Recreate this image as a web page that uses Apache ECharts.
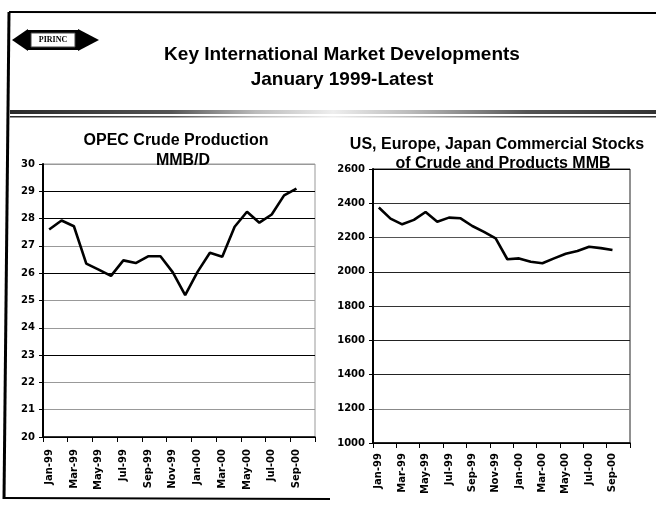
<!DOCTYPE html>
<html><head><meta charset="utf-8">
<script src="https://cdn.jsdelivr.net/npm/echarts@6/dist/echarts.min.js"></script>
<style>html,body{margin:0;padding:0;background:#fff}#c{width:656px;height:506px}</style>
</head><body><div id="c"></div>
<script>
// ---- data ----
const categories = ['Jan-99','Feb-99','Mar-99','Apr-99','May-99','Jun-99','Jul-99','Aug-99','Sep-99','Oct-99','Nov-99','Dec-99',
                    'Jan-00','Feb-00','Mar-00','Apr-00','May-00','Jun-00','Jul-00','Aug-00','Sep-00','Oct-00'];
const opecProduction = [27.6, 27.93, 27.72, 26.35, 26.13, 25.9, 26.47, 26.37, 26.62, 26.62, 26.03, 25.2,
                        26.05, 26.75, 26.6, 27.7, 28.25, 27.85, 28.15, 28.85, 29.1, null];
const commercialStocks = [2375, 2310, 2277, 2303, 2349, 2292, 2316, 2312, 2267, 2233, 2195, 2073,
                          2078, 2058, 2050, 2078, 2105, 2121, 2146, 2138, 2127, null];
const opecAxis = {min: 20, max: 30, interval: 1};
const stocksAxis = {min: 1000, max: 2600, interval: 200};
const mainTitle = ['Key International Market Developments', 'January 1999-Latest'];
const leftTitle = ['OPEC Crude Production', 'MMB/D'];
const rightTitle = ['US, Europe, Japan Commercial Stocks', 'of Crude and Products MMB'];
const logoText = 'PIRINC';

// ---- chart ----
const chart = echarts.init(document.getElementById('c'), null, {renderer: 'canvas'});
const tickFont = {fontFamily: 'DejaVu Sans', fontWeight: 'bold', fontSize: 10, color: '#000'};

function xAxisCfg(gridIndex, margin) {
  return {
    type: 'category', gridIndex, data: categories, boundaryGap: true,
    axisLine: {lineStyle: {color: '#000', width: 1.5}},
    axisTick: {show: true, interval: 1, length: 5, lineStyle: {color: '#000', width: 1}},
    axisLabel: Object.assign({interval: 1, rotate: 90, margin}, tickFont),
    splitLine: {show: false}
  };
}
function yAxisCfg(gridIndex, ax, colors) {
  return {
    type: 'value', gridIndex, min: ax.min, max: ax.max, interval: ax.interval,
    axisLine: {show: true, lineStyle: {color: '#000', width: 2}},
    axisTick: {show: true, length: 4, lineStyle: {color: '#000'}},
    axisLabel: Object.assign({margin: 8, formatter: v => String(v)}, tickFont),
    splitLine: {show: true, lineStyle: {color: colors, width: 1}}
  };
}
const bandGrad = new echarts.graphic.LinearGradient(0, 0, 1, 0, [
  {offset: 0, color: '#2a2a2a'}, {offset: 0.25, color: '#555'}, {offset: 0.38, color: '#bbb'},
  {offset: 0.5, color: '#eee'}, {offset: 0.62, color: '#bbb'}, {offset: 0.8, color: '#555'}, {offset: 1, color: '#333'}]);

function txt(text, x, y, font) {
  return {type: 'text', z: 10, style: {text, x, y, font, fill: '#000', textAlign: 'center', textVerticalAlign: 'middle'}};
}

const option = {
  animation: false,
  backgroundColor: '#fff',
  grid: [
    {left: 43, top: 164, width: 272, height: 273, show: true, borderColor: '#999', borderWidth: 1},
    {left: 373, top: 169, width: 257, height: 274, show: true, borderColor: '#222', borderWidth: 1}
  ],
  xAxis: [xAxisCfg(0, 12), xAxisCfg(1, 10)],
  yAxis: [
    yAxisCfg(0, opecAxis, ['#000','#999','#999','#000','#999','#999','#000','#999','#000','#000','#999']),
    yAxisCfg(1, stocksAxis, ['#000','#888','#222','#222','#333','#222','#555','#333','#000'])
  ],
  series: [
    {type: 'line', xAxisIndex: 0, yAxisIndex: 0, data: opecProduction, showSymbol: false,
     lineStyle: {color: '#000', width: 2.6}, z: 5},
    {type: 'line', xAxisIndex: 1, yAxisIndex: 1, data: commercialStocks, showSymbol: false,
     lineStyle: {color: '#000', width: 2.6}, z: 5}
  ],
  graphic: [
    // frame
    {type: 'line', shape: {x1: 9, y1: 12, x2: 656, y2: 13}, style: {stroke: '#000', lineWidth: 2}},
    {type: 'line', shape: {x1: 9, y1: 12, x2: 4, y2: 499}, style: {stroke: '#000', lineWidth: 3}},
    {type: 'line', shape: {x1: 4, y1: 498, x2: 330, y2: 499}, style: {stroke: '#000', lineWidth: 2}},
    // hatched band
    {type: 'rect', shape: {x: 10, y: 110, width: 646, height: 4}, style: {fill: bandGrad}},
    {type: 'rect', shape: {x: 10, y: 116, width: 646, height: 1.5}, style: {fill: bandGrad}},
    // logo badge
    {type: 'polygon', shape: {points: [[12, 40], [28, 29], [28, 51]]}, style: {fill: '#000'}},
    {type: 'polygon', shape: {points: [[78, 29], [99, 40], [78, 51]]}, style: {fill: '#000'}},
    {type: 'rect', shape: {x: 27, y: 30, width: 52, height: 20}, style: {fill: '#000'}},
    {type: 'rect', shape: {x: 31, y: 33, width: 44, height: 14}, style: {fill: '#fff', stroke: '#444', lineWidth: 1}},
    txt(logoText, 53, 40, 'bold 8px "Liberation Serif"'),
    // titles
    txt(mainTitle[0], 342, 55, 'bold 19px "Liberation Sans"'),
    txt(mainTitle[1], 342, 80, 'bold 19px "Liberation Sans"'),
    txt(leftTitle[0], 176, 141, 'bold 16px "Liberation Sans"'),
    txt(leftTitle[1], 183, 161, 'bold 16px "Liberation Sans"'),
    txt(rightTitle[0], 497, 145, 'bold 16px "Liberation Sans"'),
    txt(rightTitle[1], 503, 164, 'bold 16px "Liberation Sans"')
  ]
};
chart.setOption(option);
</script>
</body></html>
